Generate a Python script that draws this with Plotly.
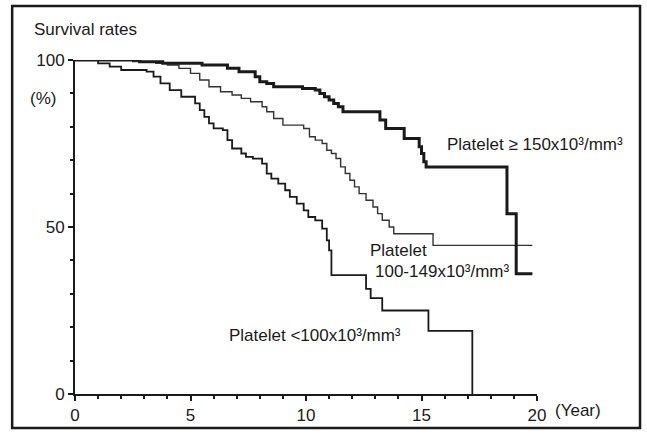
import plotly.graph_objects as go

# ---- data ----
time_high = [0, 2.8, 3.8, 5.5, 6.6, 7.1, 7.8, 8.0, 8.3, 8.6, 9.85, 10.4, 10.6, 10.8, 11.0, 11.2,
             11.4, 11.6, 13.2, 13.45, 14.25, 14.9, 15.0, 15.1, 15.2, 18.7, 19.1, 19.8]
surv_high = [100, 99.5, 99, 98.5, 97.5, 96.5, 95, 93.5, 93, 92, 91.5, 91, 90, 89, 88, 87,
             86, 84.5, 82, 79.5, 76.5, 74, 72, 69.5, 68, 54, 36, 36]

time_mid = [0, 2.5, 3.5, 4.0, 4.5, 5.0, 5.4, 5.8, 6.3, 6.8, 7.2, 7.6, 8.1, 8.3, 8.6, 9.0, 9.9,
            10.15, 10.4, 10.7, 10.9, 11.1, 11.3, 11.5, 11.7, 11.9, 12.1, 12.3, 12.6, 12.9,
            13.1, 13.3, 13.6, 13.8, 15.5, 19.8]
surv_mid = [100, 99.5, 99, 98.5, 97.5, 96, 94, 92, 90.5, 89.5, 88.5, 87.5, 86, 84.5, 82.5, 80.5,
            79.5, 77, 76, 75, 73, 72, 70.5, 68, 66, 64, 62, 60, 58, 56, 54, 52, 50, 48, 44.5, 44.5]

time_low = [0, 1.0, 1.5, 2.0, 3.1, 3.4, 3.7, 4.1, 4.6, 5.2, 5.4, 5.6, 5.8, 6.0, 6.4, 6.6, 6.8,
            7.2, 7.4, 7.7, 8.1, 8.3, 8.5, 8.8, 9.1, 9.3, 9.6, 9.9, 10.1, 10.4, 10.7, 10.9, 11.0,
            11.1, 12.6, 12.8, 13.3, 15.3, 17.2]
surv_low = [100, 99, 98, 97, 96.5, 95, 93, 91, 89, 87, 85, 83, 81, 79.5, 79, 76, 73.5,
            72, 71, 70.5, 69, 66, 64.5, 63, 61, 59, 57, 55, 53, 52, 49.5, 46, 43,
            35.6, 31.5, 28.7, 25, 18.9, 0]

x_ticks = [0, 5, 10, 15, 20]
y_ticks = [0, 50, 100]

label_high = "Platelet ≥ 150x10³/mm³"
label_mid_1 = "Platelet"
label_mid_2 = "100-149x10³/mm³"
label_low = "Platelet <100x10³/mm³"

INK = "#1a1a1a"
FONT = "Liberation Sans, Arial, sans-serif"

fig = go.Figure()
fig.add_trace(go.Scatter(x=time_mid, y=surv_mid, mode="lines", line_shape="hv",
                         line=dict(color="#333333", width=1.4), hoverinfo="skip"))
fig.add_trace(go.Scatter(x=time_low, y=surv_low, mode="lines", line_shape="hv",
                         line=dict(color=INK, width=1.8), hoverinfo="skip"))
fig.add_trace(go.Scatter(x=time_high, y=surv_high, mode="lines", line_shape="hv",
                         line=dict(color=INK, width=3), hoverinfo="skip"))

fig.update_layout(
    width=647, height=436,
    margin=dict(l=75, r=110, t=60, b=42),
    paper_bgcolor="white", plot_bgcolor="white",
    showlegend=False,
    font=dict(family=FONT, size=17, color=INK),
    xaxis=dict(range=[0, 20], tickvals=x_ticks, showgrid=False, zeroline=False,
               showline=True, linecolor=INK, linewidth=2, ticks="outside",
               ticklen=5, tickwidth=1.5, tickcolor=INK,
               minor=dict(dtick=1, ticks="outside", ticklen=3, tickcolor=INK),
               tickfont=dict(size=17)),
    yaxis=dict(range=[0, 100], tickvals=y_ticks, showgrid=False, zeroline=False,
               showline=True, linecolor=INK, linewidth=2, ticks="outside",
               ticklen=5, tickwidth=1.5, tickcolor=INK,
               minor=dict(dtick=10, ticks="outside", ticklen=3, tickcolor=INK),
               tickfont=dict(size=17)),
)

# outer frame
fig.add_shape(type="rect", xref="paper", yref="paper",
              x0=-0.136, x1=1.223, y0=-0.102, y1=1.162,
              line=dict(color=INK, width=2.5))

anns = [
    dict(text="Survival rates", x=-0.093, y=1.09, xanchor="left", yanchor="middle", size=17),
    dict(text="(%)", x=-0.102, y=0.886, xanchor="left", yanchor="middle", size=17),
    dict(text="(Year)", x=1.035, y=-0.05, xanchor="left", yanchor="middle", size=17),
    dict(text=label_high, x=0.801, y=0.746, xanchor="left", yanchor="middle", size=17),
    dict(text=label_mid_1, x=0.634, y=0.431, xanchor="left", yanchor="middle", size=17),
    dict(text=label_mid_2, x=0.645, y=0.368, xanchor="left", yanchor="middle", size=17),
    dict(text=label_low, x=0.329, y=0.176, xanchor="left", yanchor="middle", size=17),
]
for a in anns:
    fig.add_annotation(text=a["text"], x=a["x"], y=a["y"], xref="paper", yref="paper",
                       xanchor=a["xanchor"], yanchor=a["yanchor"], showarrow=False,
                       font=dict(family=FONT, size=a["size"], color=INK))

fig.write_html("out.html", config={"displayModeBar": False},
               post_script="document.body.style.margin='0px';document.body.style.padding='0px';")
